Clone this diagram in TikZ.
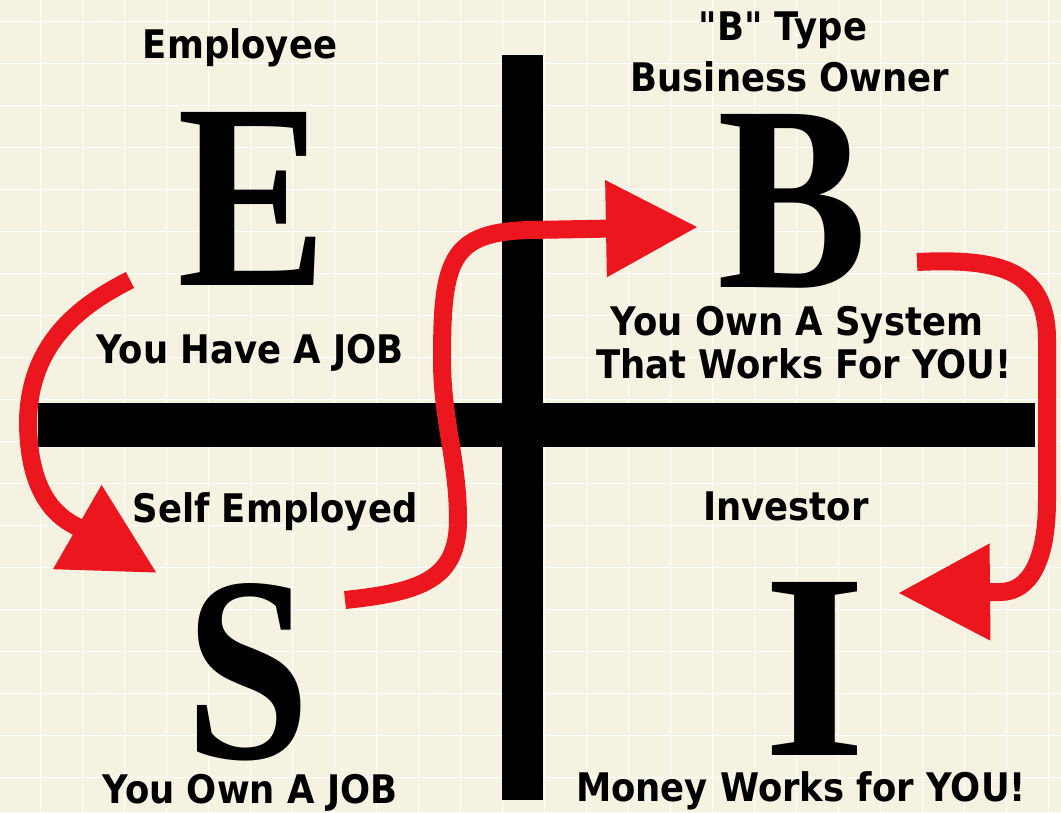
\documentclass[tikz,border=0pt]{standalone}
\usepackage{fontspec}
\usepackage{tikz}
\usetikzlibrary{arrows.meta}

\newfontfamily\labelfont{DejaVu Sans}[FakeStretch=0.9]
\newfontfamily\letterfont{Liberation Serif}[FakeStretch=0.85]
\newfontfamily\letterfontwide{Liberation Serif}
\definecolor{paper}{RGB}{246,242,226}
\definecolor{arrowred}{RGB}{236,22,30}

\begin{document}
\begin{tikzpicture}[ % one unit is one pixel of the reference
x=0.025cm, y=-0.025cm,
grid_line/.style={draw=white, line width=0.6pt},
bar/.style={fill=black},
label_text/.style={anchor=base, inner sep=0pt, font=\labelfont\bfseries\fontsize{28}{34}\selectfont},
big_letter/.style={anchor=base, inner sep=0pt, text height=4.4cm, text depth=0pt, font=\letterfont\bfseries\fontsize{188}{190}\selectfont},
red_arrow/.style={draw=arrowred, line width=0.45cm, -{Triangle[length=2.3cm, width=2.3cm]}}
]

% paper and its faint grid
\useasboundingbox (0,0) rectangle (1061,812);
\fill[paper] (0,0) rectangle (1061,812);
\foreach \gx in {40,82,...,1061} \draw[grid_line] (\gx,0) -- (\gx,812);
\foreach \gy in {21,63,...,812} \draw[grid_line] (0,\gy) -- (1061,\gy);

% the cross
\fill[bar] (502,55) rectangle (543,800);
\fill[bar] (38,403) rectangle (1035,447);

% \node[type](name_of_node) at (x,y) {node_text}
\node[label_text](employee_title) at (240,58) {Employee};
\node[big_letter](e_letter) at (252,285) {E};
\node[label_text](e_text) at (250,363) {You Have A JOB};

\node[label_text](b_title_top) at (783,40) {"B" Type};
\node[label_text](b_title_bottom) at (790,91) {Business Owner};
\node[big_letter](b_letter) at (792,287) {B};
\node[label_text](b_text_top) at (797,335) {You Own A System};
\node[label_text](b_text_bottom) at (804,378) {That Works For YOU!};

\node[label_text](s_title) at (275,522) {Self Employed};
\node[big_letter](s_letter) at (248,758) {S};
\node[label_text](s_text) at (250,803) {You Own A JOB};

\node[label_text](i_title) at (786,520) {Investor};
\node[big_letter, font=\letterfontwide\bfseries\fontsize{188}{190}\selectfont](i_letter) at (815,755) {I};
\node[label_text](i_text) at (801,801) {Money Works for YOU!};

% arrow ends
\coordinate (e_out) at (130,280);
\coordinate (s_in) at (157,573);
\coordinate (s_out) at (345,600);
\coordinate (b_in) at (698,227);
\coordinate (b_out) at (917,262);
\coordinate (i_in) at (898,593);

% \draw[red_arrow](a) .. controls (p) and (q) .. (b)
\draw[red_arrow](e_out) .. controls (70,310) and (30,350) .. (28,420)
  .. controls (28,480) and (47,510) .. (72,524) -- (s_in);
\draw[red_arrow](s_out) .. controls (420,592) and (458,580) .. (458,520)
  .. controls (458,460) and (442,420) .. (442,360)
  .. controls (442,260) and (450,232) .. (530,230) -- (b_in);
\draw[red_arrow](b_out) .. controls (1000,258) and (1047,270) .. (1047,340)
  -- (1047,500) .. controls (1047,560) and (1030,592) .. (1000,592) -- (i_in);

\end{tikzpicture}
\end{document}
